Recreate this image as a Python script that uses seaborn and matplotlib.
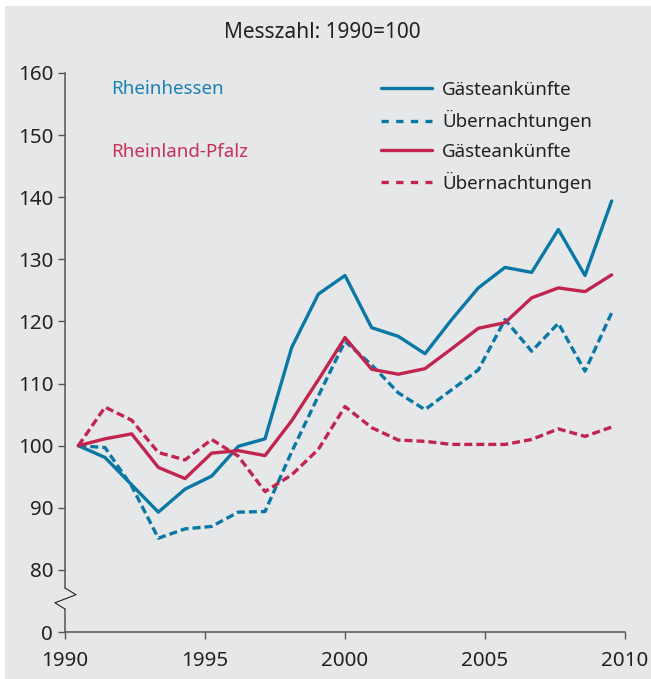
import pandas as pd
import seaborn as sns
import matplotlib.pyplot as plt
import matplotlib.transforms as mtransforms
from matplotlib.lines import Line2D
from matplotlib.patches import Rectangle

# --- data (index 1990 = 100) ---
years = list(range(1990, 2011))
rh_ankuenfte = [100, 98.1, 93.7, 89.3, 93.0, 95.1, 99.9, 101.1, 115.8, 124.4, 127.4,
                119.0, 117.6, 114.8, 120.3, 125.4, 128.7, 127.9, 134.8, 127.4, 139.4]
rh_uebernachtungen = [100, 99.7, 93.5, 85.1, 86.6, 87.0, 89.3, 89.4, 99.0, 108.0, 116.8,
                      113.0, 108.5, 105.8, 109.0, 112.2, 120.3, 115.2, 119.7, 112.0, 121.4]
rlp_ankuenfte = [100, 101.1, 101.9, 96.5, 94.7, 98.8, 99.2, 98.4, 104.0, 110.6, 117.4,
                 112.3, 111.5, 112.4, 115.6, 118.9, 119.8, 123.8, 125.4, 124.8, 127.5]
rlp_uebernachtungen = [100, 106.2, 104.1, 98.9, 97.7, 101.0, 98.3, 92.6, 95.3, 99.4, 106.3,
                       102.9, 100.9, 100.7, 100.2, 100.2, 100.2, 101.0, 102.7, 101.5, 103.0]

regions = ["Rheinhessen", "Rheinland-Pfalz"]
measures = ["Gästeankünfte", "Übernachtungen"]
x_tick_labels = ["1990", "1995", "2000", "2005", "2010"]
y_tick_labels = ["0", "80", "90", "100", "110", "120", "130", "140", "150", "160"]

BG = "#e6e7e9"
BLUE = "#0a78a5"
RED = "#c1244f"
AXIS = "#555555"

series = {
    ("Rheinhessen", "Gästeankünfte"): rh_ankuenfte,
    ("Rheinhessen", "Übernachtungen"): rh_uebernachtungen,
    ("Rheinland-Pfalz", "Gästeankünfte"): rlp_ankuenfte,
    ("Rheinland-Pfalz", "Übernachtungen"): rlp_uebernachtungen,
}
rows = []
for (reg, mea), vals in series.items():
    for yr, v in zip(years, vals):
        rows.append({"year": yr, "value": v, "region": reg, "measure": mea})
df = pd.DataFrame(rows)

sns.set_theme(style="white")
plt.rcParams["font.family"] = ["Noto Sans", "DejaVu Sans"]

fig = plt.figure(figsize=(6.51, 6.79), dpi=100, facecolor="white")
fig.patches.append(Rectangle((5 / 651, 0), 1, 1 - 6 / 679, transform=fig.transFigure,
                             facecolor=BG, edgecolor="none", zorder=-10))
ax = fig.add_axes([65 / 651, 47 / 679, 560 / 651, 559 / 679])
ax.set_facecolor(BG)

palette = {"Rheinhessen": BLUE, "Rheinland-Pfalz": RED}
dashes = {"Gästeankünfte": "", "Übernachtungen": (2.4, 1.2)}
sns.lineplot(data=df, x="year", y="value", hue="region", style="measure",
             palette=palette, dashes=dashes, linewidth=2.4, legend=False, ax=ax)

# axis: broken y (0 shown at 70), band-style x
floor = 70
ax.set_ylim(floor, 160)
ax.set_xlim(1989.5, 2010.5)
ax.set_yticks([floor] + list(range(80, 161, 10)))
ax.set_yticklabels(y_tick_labels)
xt = [1989.5 + 21 * k / 4 for k in range(5)]
ax.set_xticks(xt)
ax.set_xticklabels(x_tick_labels)
ax.set_xlabel("")
ax.set_ylabel("")

for s in ["top", "right"]:
    ax.spines[s].set_visible(False)
for s in ["left", "bottom"]:
    ax.spines[s].set_color(AXIS)
    ax.spines[s].set_linewidth(1.1)
ax.spines["left"].set_bounds(77.1, 160)
ax.tick_params(axis="both", direction="out", length=5, width=1.0, color=AXIS,
               labelsize=14.8, labelcolor="#222222")
ax.tick_params(axis="y", pad=3.5, left=True)
ax.tick_params(axis="x", pad=8.5, bottom=True)

# zigzag for the axis break
trans = mtransforms.blended_transform_factory(ax.transAxes, ax.transData)
ax.plot([0, 0], [floor, 73.7], color=AXIS, lw=1.1, transform=trans, clip_on=False)
ax.plot([0, 0, -0.018, 0.0196, 0], [73.7, 73.7, 74.7, 76.0, 77.1], color="#222222",
        lw=0.8, transform=trans, clip_on=False)

# title and region labels
fig.text(322 / 651, 1 - 33 / 679, "Messzahl: 1990=100", ha="center", va="center",
         fontsize=15, color="#222222")
fig.text(111 / 651, 1 - 89 / 679, "Rheinhessen", ha="left", va="center",
         fontsize=13.5, color="#1a82b3")
fig.text(111 / 651, 1 - 152 / 679, "Rheinland-Pfalz", ha="left", va="center",
         fontsize=13.5, color="#c6325a")

# legend
handles = [
    Line2D([], [], color=BLUE, lw=2.4),
    Line2D([], [], color=BLUE, lw=2.4, dashes=(2.2, 2.2)),
    Line2D([], [], color=RED, lw=2.4),
    Line2D([], [], color=RED, lw=2.4, dashes=(2.2, 2.2)),
]
labels = [measures[0], measures[1], measures[0], measures[1]]
leg = fig.legend(handles, labels, loc="upper left", bbox_to_anchor=(381 / 651, 1 - 81 / 679),
                 frameon=False, fontsize=13.5, handlelength=2.72, handletextpad=0.55,
                 labelspacing=0.6, borderpad=0, borderaxespad=0)
for t in leg.get_texts():
    t.set_color("#222222")

fig.savefig("out.png", dpi=100, facecolor="white")
